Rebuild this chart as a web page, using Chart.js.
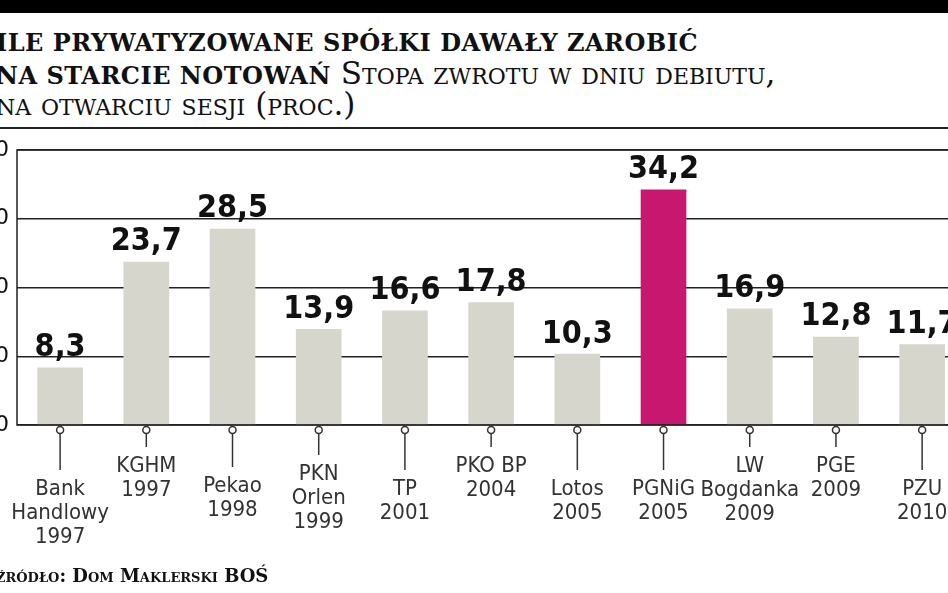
<!DOCTYPE html>
<html><head><meta charset="utf-8">
<script src="https://cdn.jsdelivr.net/npm/chart.js@4"></script>
<style>
html,body{margin:0;padding:0;background:#fff;overflow:hidden}
#wrap{position:relative;width:948px;height:593px}
#bar{position:absolute;left:0;top:0;width:948px;height:13px;background:#000}
.t{position:absolute;left:-4px;font-family:"DejaVu Serif";font-variant:small-caps;color:#111;white-space:nowrap;font-size:31px;line-height:32px}
.b{font-variant:normal;text-transform:uppercase;font-weight:bold;font-size:24px;letter-spacing:0.5px}
#rule{position:absolute;left:0;top:127px;width:948px;height:2px;background:#222}
#src{position:absolute;left:-4px;top:565px;font-family:"DejaVu Serif";font-variant:small-caps;font-weight:bold;font-size:18px;color:#111}
canvas{position:absolute;left:0;top:0}
</style></head><body>
<div id="wrap">
<div id="bar"></div>
<div class="t" style="top:24px"><span class="b">ile prywatyzowane spółki dawały zarobić</span></div>
<div class="t" style="top:57px"><span class="b">na starcie notowań</span> Stopa zwrotu w dniu debiutu,</div>
<div class="t" style="top:88px">na otwarciu sesji (proc.)</div>
<div id="rule"></div>
<canvas id="c" width="948" height="593"></canvas>
<div id="src">źródło: Dom Maklerski BOŚ</div>
</div>
<script>
const categories=[["Bank","Handlowy","1997"],["KGHM","1997"],["Pekao","1998"],["PKN","Orlen","1999"],["TP","2001"],["PKO BP","2004"],["Lotos","2005"],["PGNiG","2005"],["LW","Bogdanka","2009"],["PGE","2009"],["PZU","2010"]];
const values=[8.3,23.7,28.5,13.9,16.6,17.8,10.3,34.2,16.9,12.8,11.7];
const labelTops=[478,455,475,463,478,455,478,478,455,455,478];
const yTicks=[0,10,20,30,40];
const colors=values.map((v,i)=>i===7?"#c8176e":"#d7d6cc");
const deco={id:"deco",afterDatasetsDraw(ch){
 const c=ch.ctx,x=ch.scales.x,y=ch.scales.y,a=ch.chartArea;
 c.save();
 c.fontStretch="condensed";
 c.strokeStyle="#222";c.lineWidth=1.5;
 c.strokeRect(a.left,a.top,a.right-a.left+10,a.bottom-a.top);
 c.fillStyle="#111";c.font="22px 'DejaVu Sans'";c.textAlign="right";c.textBaseline="middle";
 yTicks.forEach(t=>c.fillText(String(t),9,y.getPixelForValue(t)));
 values.forEach((v,i)=>{
  const px=x.getPixelForValue(i),py=y.getPixelForValue(v);
  c.fillStyle="#111";c.font="bold 32px 'DejaVu Sans'";c.fontStretch="condensed";c.textAlign="center";c.textBaseline="bottom";
  c.fillText(v.toFixed(1).replace(".",","),px,py-4);
  const top=labelTops[i];
  c.strokeStyle="#333";c.lineWidth=1.5;
  c.beginPath();c.moveTo(px,a.bottom+8);c.lineTo(px,top-8);c.stroke();
  c.fillStyle="#fff";c.beginPath();c.arc(px,a.bottom+5,3.5,0,Math.PI*2);c.fill();c.stroke();
  c.fillStyle="#333";c.font="22px 'DejaVu Sans'";c.fontStretch="condensed";c.textBaseline="top";
  categories[i].forEach((l,k)=>c.fillText(l,px,top+k*24));
 });
 c.restore();
}};
new Chart(document.getElementById("c"),{
 type:"bar",
 data:{datasets:[{data:values.map((v,i)=>({x:i,y:v})),backgroundColor:colors,barThickness:45}]},
 options:{responsive:false,animation:false,
  layout:{padding:{left:17,right:0,top:150,bottom:168}},
  plugins:{legend:{display:false},tooltip:{enabled:false}},
  scales:{
   x:{type:"linear",min:-0.5,max:10.3,offset:false,bounds:"data",display:false},
   y:{min:0,max:40,afterBuildTicks:s=>{s.ticks=yTicks.map(v=>({value:v}))},
      ticks:{display:false},border:{display:false},
      grid:{color:"#222",lineWidth:1.5,drawTicks:false}}
  }},
 plugins:[deco]
});
</script>
</body></html>
